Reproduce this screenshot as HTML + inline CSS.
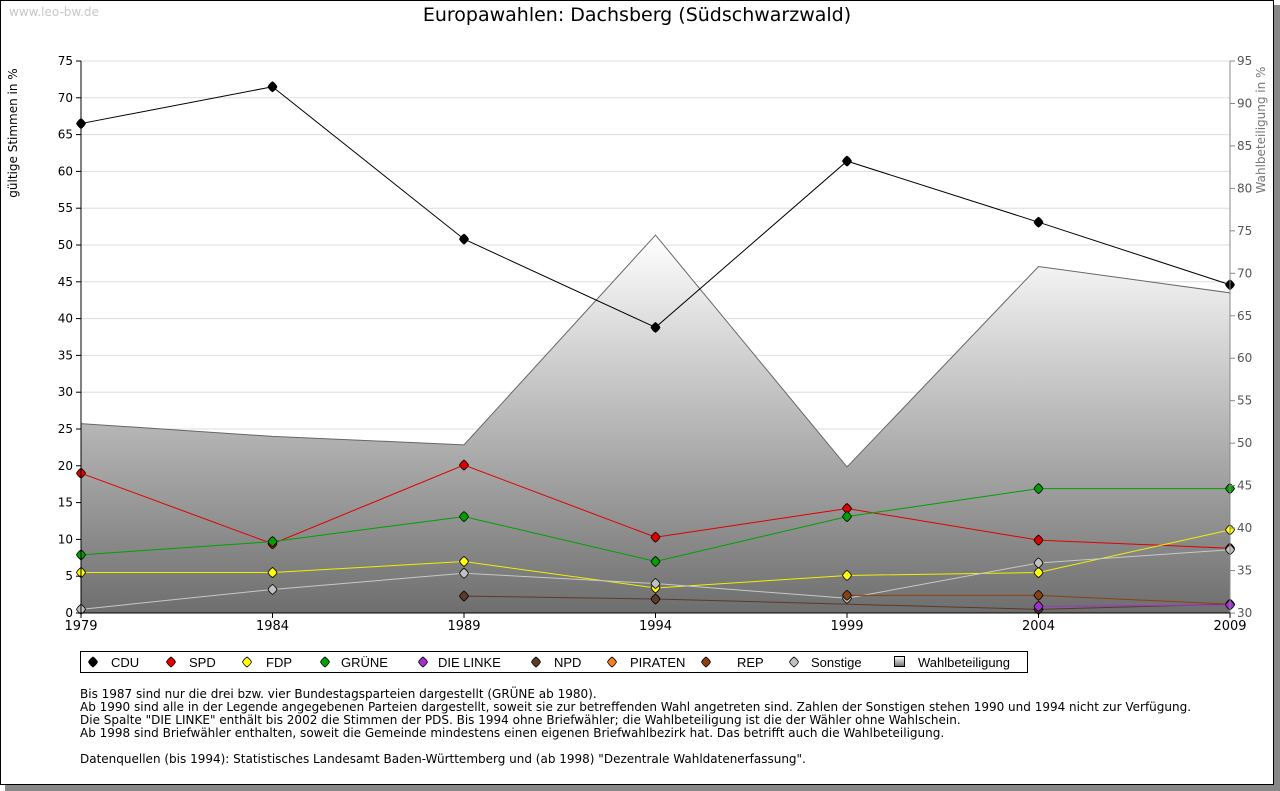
<!DOCTYPE html>
<html><head><meta charset="utf-8"><style>
body{margin:0;background:#fff;}
svg{display:block;font-family:"DejaVu Sans","Liberation Sans",sans-serif;}
</style></head><body>
<svg width="1280" height="791" viewBox="0 0 1280 791">
<defs>
<linearGradient id="wg" x1="0" y1="0" x2="0" y2="1" gradientUnits="objectBoundingBox">
<stop offset="0" stop-color="#ffffff"/><stop offset="1" stop-color="#6e6e6e"/>
</linearGradient>
</defs>
<rect x="5" y="5" width="1275" height="786" fill="#888"/>
<rect x="0.5" y="0.5" width="1273" height="784" fill="#fff" stroke="#000"/>
<text x="9" y="16" font-size="12" fill="#c8c8c8">www.leo-bw.de</text>
<text x="637" y="21" font-size="19" text-anchor="middle">Europawahlen: Dachsberg (Südschwarzwald)</text>
<g id="grid"></g>
<g id="area"></g>
<g id="series"></g>
<g id="axes"></g>
<text transform="translate(17,133) rotate(-90)" font-size="12" text-anchor="middle">gültige Stimmen in %</text>
<text transform="translate(1265,130) rotate(-90)" font-size="12" fill="#777" text-anchor="middle">Wahlbeteiligung in %</text>
<g font-size="13" font-family="Liberation Sans Narrow, Liberation Sans, sans-serif">
<rect x="80.5" y="651.5" width="947" height="21" fill="#fff" stroke="#000"/>
<g id="legend"></g>
</g>
<g font-size="12">
<text x="80" y="698">Bis 1987 sind nur die drei bzw. vier Bundestagsparteien dargestellt (GRÜNE ab 1980).</text>
<text x="80" y="711">Ab 1990 sind alle in der Legende angegebenen Parteien dargestellt, soweit sie zur betreffenden Wahl angetreten sind. Zahlen der Sonstigen stehen 1990 und 1994 nicht zur Verfügung.</text>
<text x="80" y="724">Die Spalte "DIE LINKE" enthält bis 2002 die Stimmen der PDS. Bis 1994 ohne Briefwähler; die Wahlbeteiligung ist die der Wähler ohne Wahlschein.</text>
<text x="80" y="737">Ab 1998 sind Briefwähler enthalten, soweit die Gemeinde mindestens einen eigenen Briefwahlbezirk hat. Das betrifft auch die Wahlbeteiligung.</text>
<text x="80" y="763">Datenquellen (bis 1994): Statistisches Landesamt Baden-Württemberg und (ab 1998) "Dezentrale Wahldatenerfassung".</text>
</g>
<script>
const years=[1979,1984,1989,1994,1999,2004,2009];
const leftTicks=[0,5,10,15,20,25,30,35,40,45,50,55,60,65,70,75];
const rightTicks=[30,35,40,45,50,55,60,65,70,75,80,85,90,95];
const turnout=[52.3,50.8,49.8,74.5,47.2,70.8,67.7];
const cdu=[66.5,71.5,50.8,38.8,61.4,53.1,44.6];
const spd=[19.0,9.4,20.1,10.3,14.2,9.9,8.8];
const fdp=[5.5,5.5,7.0,3.4,5.1,5.5,11.3];
const gruene=[7.9,9.7,13.1,7.0,13.1,16.9,16.9];
const linke=[null,null,null,null,null,0.9,1.1];
const npd=[null,null,2.3,1.9,null,0.5,1.2];
const rep=[null,null,null,null,2.4,2.4,1.2];
const sonstige=[0.5,3.2,5.4,4.0,2.0,6.8,8.6];
const NS='http://www.w3.org/2000/svg';
const X0=81,X1=1230,Y0=613,Y1=61;
const x=v=>X0+(v-1979)/(2009-1979)*(X1-X0);
const y=v=>Y0-v/75*(Y0-Y1);
const y2=v=>Y0-(v-30)/65*(Y0-Y1);
function mk(t,a,p){const e=document.createElementNS(NS,t);for(const k in a)e.setAttribute(k,a[k]);p.appendChild(e);return e;}
const grid=document.getElementById('grid'),axes=document.getElementById('axes'),ser=document.getElementById('series'),area=document.getElementById('area');
leftTicks.forEach(t=>{if(t>0){const l=mk('line',{x1:X0,x2:X1,y1:y(t),y2:y(t),stroke:'#ddd'},grid);}
const tl=mk('line',{x1:X0-5,x2:X0,y1:y(t),y2:y(t),stroke:'#000'},axes);
const tx=mk('text',{x:X0-8,y:y(t)+4,'font-size':12,'text-anchor':'end'},axes);tx.textContent=t;});
rightTicks.forEach(t=>{const tl=mk('line',{x1:X1,x2:X1+5,y1:y2(t),y2:y2(t),stroke:'#888'},axes);
const tx=mk('text',{x:X1+7,y:y2(t)+4,'font-size':12,fill:'#555'},axes);tx.textContent=t;});
let d='M'+x(years[0])+','+Y0;years.forEach((yr,i)=>d+=' L'+x(yr)+','+y2(turnout[i]));d+=' L'+x(years[6])+','+Y0+' Z';
const ar=mk('path',{d:d,fill:'url(#wg)',stroke:'#666'},area);
mk('line',{x1:X0,x2:X0,y1:Y1,y2:Y0,stroke:'#000'},axes);
mk('line',{x1:X1,x2:X1,y1:Y1,y2:Y0,stroke:'#888'},axes);
mk('line',{x1:X0,x2:X1,y1:Y0,y2:Y0,stroke:'#000'},axes);
years.forEach(yr=>{mk('line',{x1:x(yr),x2:x(yr),y1:Y0,y2:Y0+5,stroke:'#000'},axes);const t=mk('text',{x:x(yr),y:Y0+17,'font-size':13,'text-anchor':'middle'},axes);t.textContent=yr;});
const series=[['cdu',cdu,'#000','#000'],['spd',spd,'#e00000','#e00000'],['fdp',fdp,'#f0f000','#ffff00'],['gruene',gruene,'#00a000','#00a000'],['sonstige',sonstige,'#c8c8c8','#c0c0c0'],['npd',npd,'#5a3a28','#5a3a28'],['rep',rep,'#8a4010','#8a4010'],['linke',linke,'#a030d0','#a030d0']];
function dia(cx,cy,f,p){const e=mk('path',{d:`M${cx},${cy-5}Q${cx+3},${cy-3} ${cx+4.5},${cy}Q${cx+3},${cy+3} ${cx},${cy+5}Q${cx-3},${cy+3} ${cx-4.5},${cy}Q${cx-3},${cy-3} ${cx},${cy-5}Z`,fill:f,stroke:'#000','stroke-width':0.8},p);return e;}
series.forEach(([n,v,c,f])=>{let pts=[];years.forEach((yr,i)=>{if(v[i]!==null)pts.push([x(yr),y(v[i])]);});
const pl=mk('polyline',{points:pts.map(p=>p.join(',')).join(' '),fill:'none',stroke:c,'stroke-width':1},ser);
pts.forEach(p=>{const m=dia(p[0],p[1],f,ser);});});
const leg=document.getElementById('legend');
const legItems=[['CDU','#000',93,111],['SPD','#e00000',171,189],['FDP','#ffff00',247,266],['GRÜNE','#00a000',325,341],['DIE LINKE','#a030d0',423,438],['NPD','#5a3a28',536,554],['PIRATEN','#f08020',612,630],['REP','#8a4010',706,737],['Sonstige','#c0c0c0',794,811]];
legItems.forEach(([n,c,mx,tx])=>{const m=dia(mx,662,c,leg);const t=mk('text',{x:tx,y:667},leg);t.textContent=n;});
const sq=mk('rect',{x:894.5,y:656.5,width:10,height:10,fill:'url(#wg)',stroke:'#000'},leg);
const wt=mk('text',{x:918,y:667},leg);wt.textContent='Wahlbeteiligung';
</script>
</svg>
</body></html>
